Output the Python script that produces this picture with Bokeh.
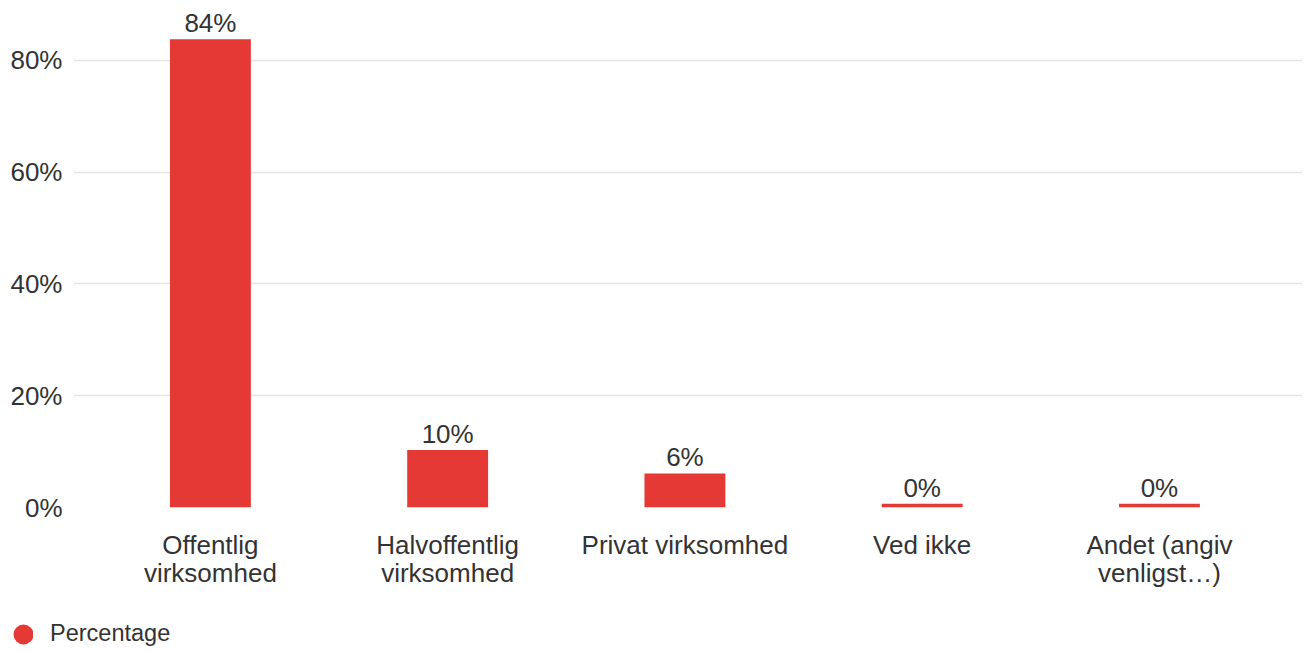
from bokeh.plotting import figure
from bokeh.layouts import column
from bokeh.models import (ColumnDataSource, FixedTicker, PrintfTickFormatter,
                          Range1d, Legend, LegendItem)
from bokeh.core.properties import value
from bokeh.embed import file_html
from bokeh.resources import INLINE

categories = ["Offentlig\nvirksomhed", "Halvoffentlig\nvirksomhed", "Privat virksomhed",
              "Ved ikke", "Andet (angiv\nvenligst…)"]
percentages = [83.8, 10.3, 6.1, 0.0, 0.0]
value_labels = ["84%", "10%", "6%", "0%", "0%"]
y_ticks = [0, 20, 40, 60, 80]
series_name = "Percentage"

RED = "#e53935"
TEXT = "#333333"
FONT = "Liberation Sans"
MIN_VISIBLE = 0.65  # minimal visible stub for zero-valued bars

xs = list(range(len(categories)))
tops = [max(v, MIN_VISIBLE) for v in percentages]
src = ColumnDataSource(dict(x=xs, top=tops, lab=value_labels))

p = figure(width=1304, height=593,
           x_range=Range1d(-0.577, len(categories) - 1 + 0.603),
           y_range=Range1d(0, 89.3),
           output_backend="svg", toolbar_location=None,
           min_border_left=73, min_border_right=2, min_border_top=8, min_border_bottom=86)
p.outline_line_color = None
p.background_fill_color = "white"
p.border_fill_color = "white"

p.vbar(x="x", top="top", bottom=0, width=0.341, source=src,
       fill_color=RED, line_color=None)
p.text(x="x", y="top", text="lab", source=src, text_align="center",
       text_baseline="alphabetic", y_offset=-16, text_font=value(FONT),
       text_font_size="26px", text_color=TEXT)

# axes
p.xaxis.ticker = FixedTicker(ticks=xs)
p.xaxis.major_label_overrides = {i: c for i, c in enumerate(categories)}
p.xaxis.axis_line_color = None
p.xaxis.major_tick_line_color = None
p.xaxis.minor_tick_line_color = None
p.xaxis.major_tick_out = 0
p.xaxis.major_label_standoff = 22
p.xaxis.major_label_text_font = FONT
p.xaxis.major_label_text_font_size = "26px"
p.xaxis.major_label_text_color = TEXT
p.xaxis.major_label_text_line_height = 0.95

p.yaxis.ticker = FixedTicker(ticks=y_ticks)
p.yaxis.formatter = PrintfTickFormatter(format="%d%%")
p.yaxis.axis_line_color = None
p.yaxis.major_tick_line_color = None
p.yaxis.minor_tick_line_color = None
p.yaxis.major_tick_out = 0
p.yaxis.major_label_standoff = 11
p.yaxis.major_label_text_font = FONT
p.yaxis.major_label_text_font_size = "26px"
p.yaxis.major_label_text_color = TEXT

p.xgrid.grid_line_color = None
p.ygrid.grid_line_color = "#e4e4e4"
p.ygrid.grid_line_width = 1.5

# legend strip below the chart
lg = figure(width=1304, height=58, x_range=Range1d(0, 1), y_range=Range1d(0, 1),
            x_axis_location=None, y_axis_location=None,
            output_backend="svg", toolbar_location=None,
            min_border_left=0, min_border_right=0, min_border_top=0, min_border_bottom=0)
lg.grid.visible = False
lg.outline_line_color = None
lg.background_fill_color = "white"
lg.border_fill_color = "white"

legend_x = 13
if "frame_align" in lg.properties():
    lg.frame_align = False
else:
    legend_x = 13 - 73

key = lg.scatter(x=[0.5], y=[0.5], marker="circle", size=8, line_width=12,
                 fill_color=RED, line_color=RED)
key.visible = False
legend = Legend(items=[LegendItem(label=value(series_name), renderers=[key])],
                location=(legend_x, 4), orientation="horizontal",
                glyph_width=20, glyph_height=26, label_standoff=17,
                label_text_font=FONT, label_text_font_size="23.5px",
                label_text_color=TEXT, label_text_baseline="middle",
                border_line_color=None, background_fill_alpha=0,
                padding=0, margin=0, spacing=0, click_policy="none")
lg.add_layout(legend, "center")

layout = column(p, lg, spacing=0)
open("out.html", "w").write(file_html(layout, INLINE))
